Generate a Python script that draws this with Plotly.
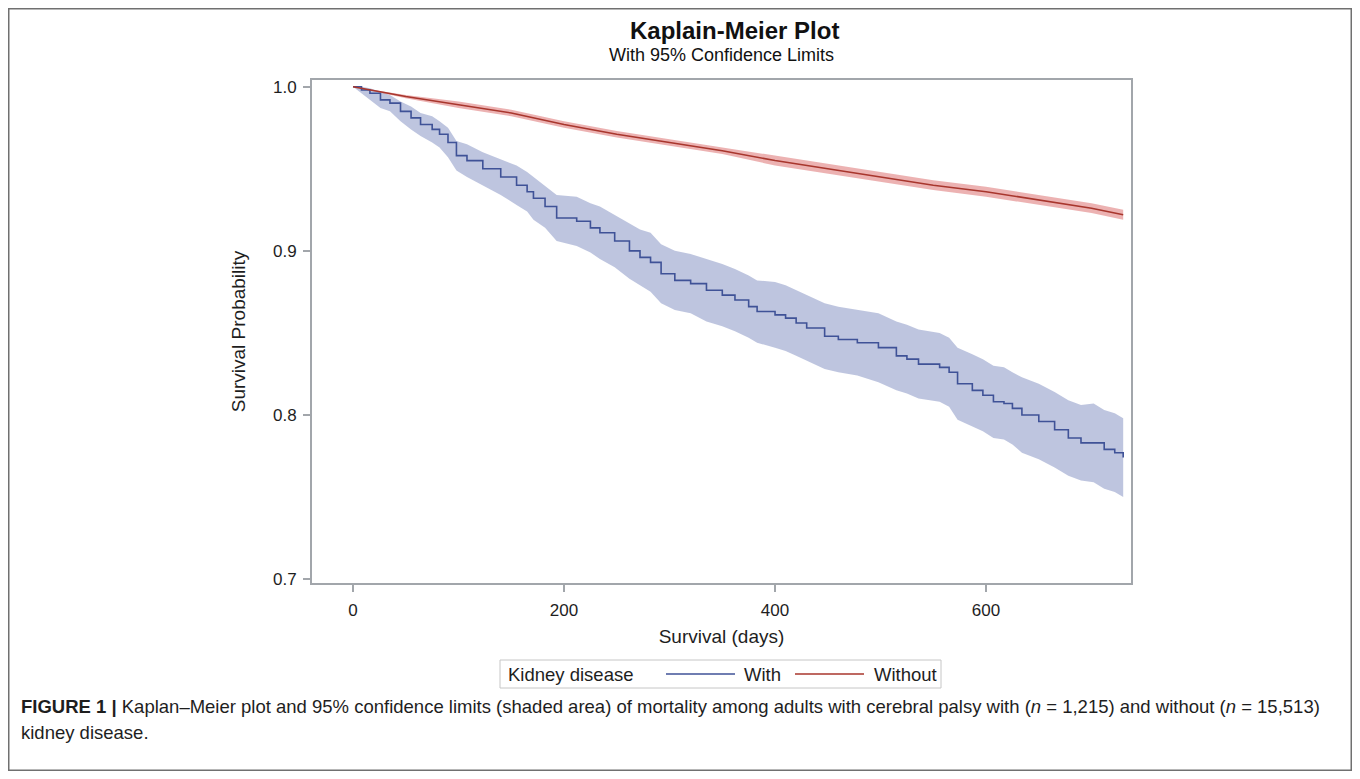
import plotly.graph_objects as go

# ---------------- data ----------------
with_days = [0, 8, 16, 26, 35, 45, 55, 64, 75, 82, 90, 98, 108, 123, 140, 155, 165, 171,
             182, 193, 212, 225, 234, 248, 262, 272, 282, 292, 305, 320, 335, 350, 362,
             375, 383, 400, 410, 420, 430, 447, 460, 478, 498, 515, 525, 536, 556, 565,
             573, 587, 597, 607, 617, 625, 634, 650, 665, 678, 690, 702, 712, 722, 730]
with_surv = [1.000, 0.998, 0.996, 0.992, 0.990, 0.985, 0.981, 0.977, 0.974, 0.971, 0.966,
             0.958, 0.955, 0.950, 0.945, 0.940, 0.936, 0.932, 0.927, 0.920, 0.918, 0.914,
             0.911, 0.906, 0.900, 0.896, 0.893, 0.886, 0.882, 0.880, 0.876, 0.873, 0.870,
             0.866, 0.863, 0.861, 0.859, 0.856, 0.853, 0.848, 0.846, 0.844, 0.841, 0.836,
             0.834, 0.831, 0.829, 0.826, 0.819, 0.815, 0.812, 0.808, 0.807, 0.804, 0.800,
             0.796, 0.791, 0.786, 0.783, 0.783, 0.779, 0.777, 0.774]
with_lower = [1.000, 0.996, 0.992, 0.987, 0.985, 0.979, 0.974, 0.970, 0.966, 0.963, 0.957,
              0.949, 0.945, 0.940, 0.934, 0.928, 0.924, 0.919, 0.914, 0.906, 0.903, 0.899,
              0.895, 0.890, 0.883, 0.879, 0.875, 0.868, 0.864, 0.862, 0.857, 0.854, 0.851,
              0.847, 0.844, 0.841, 0.839, 0.836, 0.833, 0.828, 0.826, 0.824, 0.820, 0.815,
              0.813, 0.810, 0.808, 0.805, 0.797, 0.793, 0.790, 0.786, 0.785, 0.782, 0.777,
              0.773, 0.768, 0.763, 0.760, 0.759, 0.755, 0.753, 0.750]
with_upper = [1.000, 1.000, 0.999, 0.997, 0.995, 0.991, 0.988, 0.984, 0.982, 0.979, 0.975,
              0.967, 0.965, 0.960, 0.956, 0.952, 0.948, 0.945, 0.940, 0.934, 0.933, 0.929,
              0.927, 0.922, 0.917, 0.913, 0.911, 0.904, 0.900, 0.898, 0.895, 0.892, 0.889,
              0.885, 0.882, 0.881, 0.879, 0.876, 0.873, 0.868, 0.866, 0.864, 0.862, 0.857,
              0.855, 0.852, 0.850, 0.847, 0.841, 0.837, 0.834, 0.830, 0.829, 0.826, 0.823,
              0.819, 0.814, 0.809, 0.806, 0.807, 0.803, 0.801, 0.798]

without_days = [0, 50, 100, 150, 200, 250, 300, 350, 400, 450, 500, 550, 600, 650, 700, 730]
without_surv = [1.000, 0.994, 0.989, 0.984, 0.977, 0.971, 0.966, 0.961, 0.955, 0.950,
                0.945, 0.940, 0.936, 0.931, 0.926, 0.922]
without_lower = [1.000, 0.993, 0.987, 0.982, 0.975, 0.969, 0.964, 0.959, 0.952, 0.947,
                 0.942, 0.937, 0.933, 0.928, 0.923, 0.919]
without_upper = [1.000, 0.995, 0.991, 0.986, 0.979, 0.973, 0.968, 0.963, 0.958, 0.953,
                 0.948, 0.943, 0.939, 0.934, 0.929, 0.925]

x_ticks = [0, 200, 400, 600]
y_ticks = [0.7, 0.8, 0.9, 1.0]
y_tick_labels = ["0.7", "0.8", "0.9", "1.0"]

series_names = ["With", "Without"]
legend_title = "Kidney disease"

# ---------------- styling ----------------
FONT = "Liberation Sans, Arial, sans-serif"
BLUE = "#3f5297"
BLUE_BAND = "rgba(150,162,204,0.62)"
RED = "#a8362d"
RED_BAND = "rgba(224,130,130,0.62)"
AXIS = "#a2a6ab"
TXT = "#1e1e1e"

# page body margin of 8px: the figure sits at page offset (8, 8)
OFF = 8
FIG_W, FIG_H = 1360 - 2 * OFF, 779 - 2 * OFF
# plot area in page pixels
L, R, T, B = 312, 1131, 80, 583
W, H = R - L, B - T


def px(xp):
    return (xp - L) / W


def py(yp):
    return (B - yp) / H


fig = go.Figure()

# confidence bands
fig.add_trace(go.Scatter(x=with_days, y=with_upper, mode="lines", line=dict(width=0),
                         showlegend=False, hoverinfo="skip"))
fig.add_trace(go.Scatter(x=with_days, y=with_lower, mode="lines", line=dict(width=0),
                         fill="tonexty", fillcolor=BLUE_BAND, showlegend=False, hoverinfo="skip"))
fig.add_trace(go.Scatter(x=without_days, y=without_upper, mode="lines", line=dict(width=0),
                         showlegend=False, hoverinfo="skip"))
fig.add_trace(go.Scatter(x=without_days, y=without_lower, mode="lines", line=dict(width=0),
                         fill="tonexty", fillcolor=RED_BAND, showlegend=False, hoverinfo="skip"))

# survival curves
fig.add_trace(go.Scatter(x=with_days, y=with_surv, mode="lines", name=series_names[0],
                         line=dict(color=BLUE, width=1.6, shape="hv"), showlegend=False))
fig.add_trace(go.Scatter(x=without_days, y=without_surv, mode="lines", name=series_names[1],
                         line=dict(color=RED, width=1.6), showlegend=False))

fig.update_layout(
    width=FIG_W, height=FIG_H,
    margin=dict(l=L - OFF, r=FIG_W - (R - OFF), t=T - OFF, b=FIG_H - (B - OFF), autoexpand=False),
    paper_bgcolor="white", plot_bgcolor="white",
    font=dict(family=FONT, size=17, color=TXT),
    xaxis=dict(range=[-38.9, 737.4], tickvals=x_ticks, showgrid=False, zeroline=False,
               showline=True, linecolor=AXIS, linewidth=2, mirror=True,
               ticks="outside", ticklen=7, tickcolor=AXIS, tickwidth=1.5,
               ticklabelstandoff=4,
               tickfont=dict(size=17, color=TXT),
               title=dict(text="Survival (days)", font=dict(size=19, color=TXT), standoff=10)),
    yaxis=dict(range=[0.6976, 1.0041], tickvals=y_ticks, ticktext=y_tick_labels,
               showgrid=False, zeroline=False,
               showline=True, linecolor=AXIS, linewidth=2, mirror=True,
               ticks="outside", ticklen=7, tickcolor=AXIS, tickwidth=1.5,
               ticklabelstandoff=3,
               tickfont=dict(size=17, color=TXT),
               title=dict(text="Survival Probability", font=dict(size=19, color=TXT), standoff=22)),
    showlegend=False,
)

# titles
fig.add_annotation(text="<b>Kaplain-Meier Plot</b>", xref="paper", yref="paper",
                   x=px(734), y=py(31), xanchor="center", yanchor="middle", showarrow=False,
                   font=dict(size=24, color="#111"))
fig.add_annotation(text="With 95% Confidence Limits", xref="paper", yref="paper",
                   x=px(721), y=py(55), xanchor="center", yanchor="middle", showarrow=False,
                   font=dict(size=18, color="#111"))

# legend (drawn to match the reference layout)
fig.add_shape(type="rect", xref="paper", yref="paper", x0=px(500), x1=px(941), y0=py(688), y1=py(660),
              line=dict(color="#c6c6c6", width=1), fillcolor="white")
fig.add_annotation(text=legend_title, xref="paper", yref="paper", x=px(506), y=py(674),
                   xanchor="left", yanchor="middle", showarrow=False, font=dict(size=18.5, color=TXT))
fig.add_shape(type="line", xref="paper", yref="paper", x0=px(666), x1=px(735), y0=py(674), y1=py(674),
              line=dict(color=BLUE, width=1.6))
fig.add_annotation(text=series_names[0], xref="paper", yref="paper", x=px(742), y=py(674),
                   xanchor="left", yanchor="middle", showarrow=False, font=dict(size=18.5, color=TXT))
fig.add_shape(type="line", xref="paper", yref="paper", x0=px(795), x1=px(864), y0=py(674), y1=py(674),
              line=dict(color=RED, width=1.6))
fig.add_annotation(text=series_names[1], xref="paper", yref="paper", x=px(872), y=py(674),
                   xanchor="left", yanchor="middle", showarrow=False, font=dict(size=18.5, color=TXT))

# caption
fig.add_annotation(text="<b>FIGURE 1 |</b> Kaplan–Meier plot and 95% confidence limits (shaded area) of "
                        "mortality among adults with cerebral palsy with (<i>n</i> = 1,215) and without "
                        "(<i>n</i> = 15,513)",
                   xref="paper", yref="paper", x=px(19), y=py(706), xanchor="left", yanchor="middle",
                   showarrow=False, align="left", font=dict(size=18.5, color=TXT))
fig.add_annotation(text="kidney disease.",
                   xref="paper", yref="paper", x=px(19), y=py(732), xanchor="left", yanchor="middle",
                   showarrow=False, align="left", font=dict(size=18.5, color=TXT))

# outer figure frame (at the figure edges)
fig.add_shape(type="rect", xref="paper", yref="paper",
              x0=px(OFF + 0.75), x1=px(OFF + FIG_W - 0.75),
              y0=py(OFF + FIG_H - 0.75), y1=py(OFF + 0.75),
              line=dict(color="#707070", width=1.5), fillcolor="rgba(0,0,0,0)", layer="below")

fig.write_html("out.html")
